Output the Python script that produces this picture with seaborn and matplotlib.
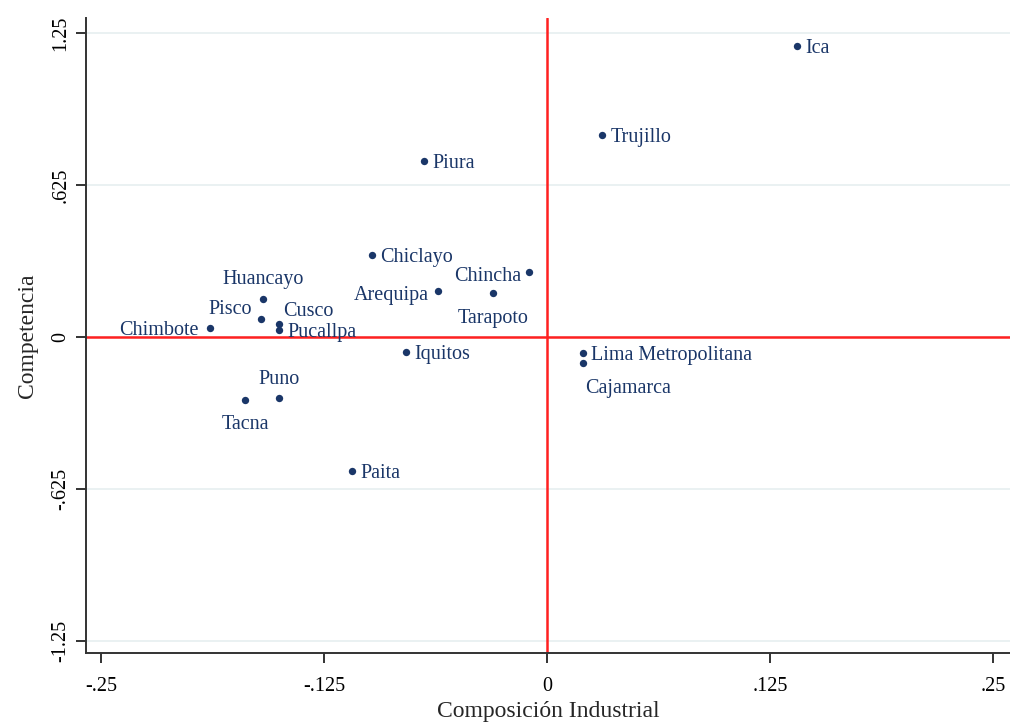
import pandas as pd
import seaborn as sns
import matplotlib.pyplot as plt

# values
ciudades = ['Ica', 'Trujillo', 'Piura', 'Chiclayo', 'Chincha', 'Arequipa', 'Tarapoto',
            'Huancayo', 'Pisco', 'Cusco', 'Pucallpa', 'Chimbote', 'Iquitos',
            'Lima Metropolitana', 'Cajamarca', 'Puno', 'Tacna', 'Paita']
composicion = [0.140, 0.031, -0.069, -0.098, -0.010, -0.061, -0.030,
               -0.159, -0.160, -0.150, -0.150, -0.189, -0.079,
               0.020, 0.020, -0.150, -0.169, -0.109]
competencia = [1.197, 0.831, 0.724, 0.337, 0.267, 0.189, 0.181,
               0.156, 0.074, 0.053, 0.029, 0.037, -0.062,
               -0.066, -0.107, -0.251, -0.259, -0.551]

x_ticks = [-0.25, -0.125, 0, 0.125, 0.25]
x_ticklabels = ['-.25', '-.125', '0', '.125', '.25']
y_ticks = [-1.25, -0.625, 0, 0.625, 1.25]
y_ticklabels = ['-1.25', '-.625', '0', '.625', '1.25']

df = pd.DataFrame({'ciudad': ciudades, 'x': composicion, 'y': competencia})

# label placement (offset in points, horizontal alignment)
label_pos = {
    'Huancayo': ((0, 14), 'center'),
    'Pisco': ((-7, 7), 'right'),
    'Cusco': ((3, 9), 'left'),
    'Chimbote': ((-8, -2), 'right'),
    'Chincha': ((-6, -3), 'right'),
    'Arequipa': ((-7, -3), 'right'),
    'Tarapoto': ((0, -18), 'center'),
    'Cajamarca': ((2, -18), 'left'),
    'Puno': ((0, 13), 'center'),
    'Tacna': ((0, -18), 'center'),
}

navy = '#1a3668'
sns.set_style('white')
plt.rcParams['font.family'] = ['Liberation Serif', 'DejaVu Serif']

fig = plt.figure(figsize=(10.1, 7.24), dpi=100)
ax = fig.add_axes([0.085, 0.098, 0.915, 0.877])

for t in y_ticks:
    ax.axhline(t, color='#e6eff0', lw=1.2, zorder=0)
ax.axhline(0, color='#ff2020', lw=1.8, zorder=1)
ax.axvline(0, color='#ff2020', lw=1.8, zorder=1)

sns.scatterplot(data=df, x='x', y='y', ax=ax, color=navy, marker='o', s=28,
                edgecolor=navy, linewidth=0, zorder=3)

for _, r in df.iterrows():
    off, ha = label_pos.get(r['ciudad'], ((6, -2), 'left'))
    ax.annotate(r['ciudad'], (r['x'], r['y']), xytext=off, textcoords='offset points',
                ha=ha, va='center', fontsize=14.5, color=navy, zorder=4)

ax.set_xlim(-0.2584, 0.2595)
ax.set_ylim(-1.30, 1.312)
ax.set_xticks(x_ticks)
ax.set_xticklabels(x_ticklabels)
ax.set_yticks(y_ticks)
ax.set_yticklabels(y_ticklabels, rotation=90, va='center')
ax.tick_params(axis='both', direction='out', length=7, width=1.4, color='#333333',
               labelsize=14.5, labelcolor='black', bottom=True, left=True)
ax.tick_params(axis='x', pad=10)
ax.tick_params(axis='y', pad=4)
ax.set_xlabel('Composición Industrial', fontsize=17, labelpad=4)
ax.set_ylabel('Competencia', fontsize=17, labelpad=10)

for s in ['top', 'right']:
    ax.spines[s].set_visible(False)
for s in ['left', 'bottom']:
    ax.spines[s].set_color('#333333')
    ax.spines[s].set_linewidth(1.4)

fig.savefig('out.png', dpi=100)
